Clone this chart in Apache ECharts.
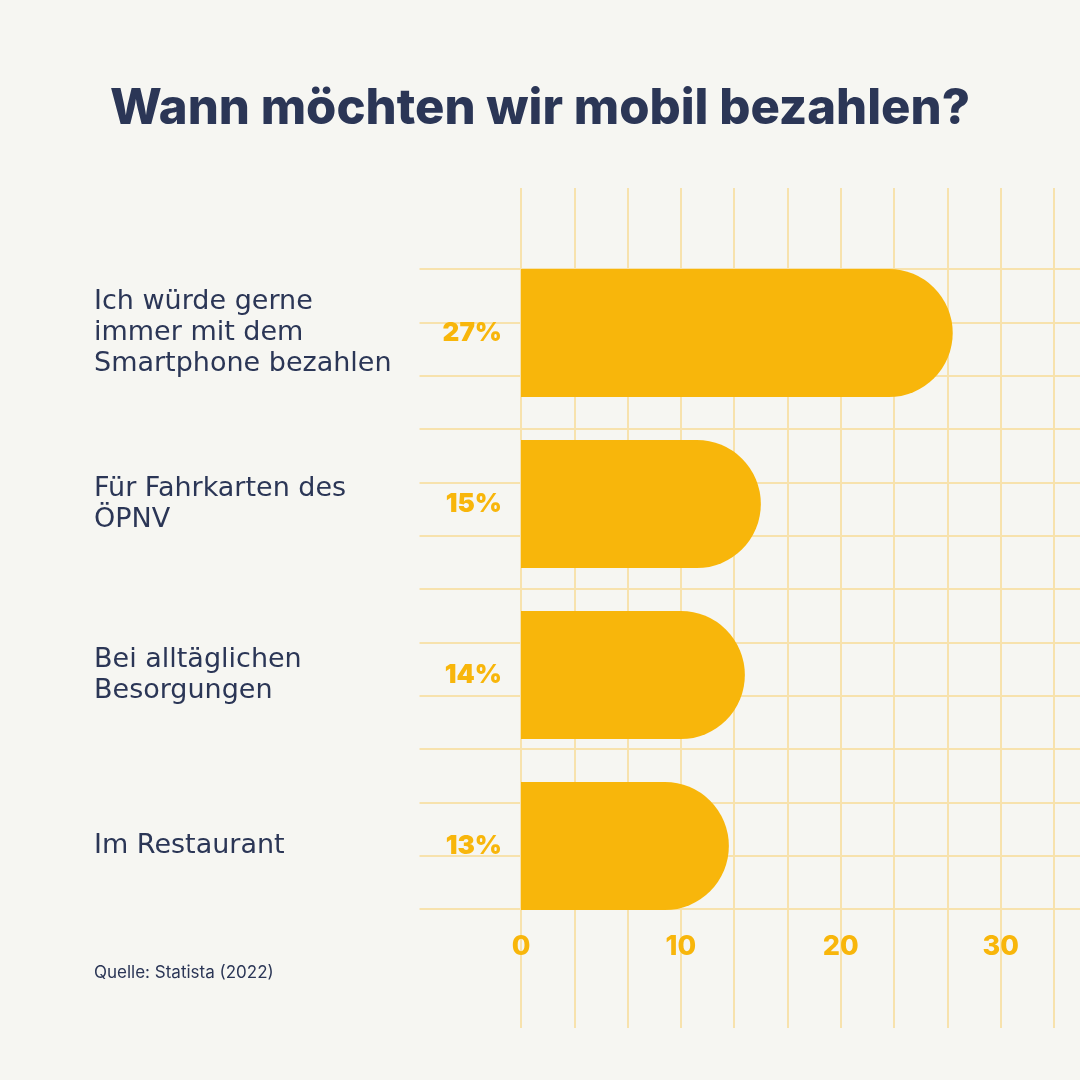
<!DOCTYPE html>
<html>

<head>
    <meta charset="utf-8">
    <title>Wann möchten wir mobil bezahlen?</title>
    <script src="https://cdn.jsdelivr.net/npm/echarts@6/dist/echarts.min.js"></script>
    <style>
        html, body { margin: 0; padding: 0; background: #f6f6f2; }
        #main { width: 1080px; height: 1080px; }
    </style>
</head>

<body>
<div id="main"></div>
<script>
    // Daten
    var categories = [
        'Ich würde gerne\nimmer mit dem\nSmartphone bezahlen',
        'Für Fahrkarten des\nÖPNV',
        'Bei alltäglichen\nBesorgungen',
        'Im Restaurant'
    ];
    var values = [27, 15, 14, 13];
    var xTicks = [0, 10, 20, 30];

    var navy = '#2b3656';
    var gold = '#f8b60b';
    var gridColor = '#f7e2ad';
    var font = 'Inter, "Noto Sans", sans-serif';
    var labelFont = '"DejaVu Sans", sans-serif';

    var myChart = echarts.init(document.getElementById('main'));

    var option = {
        backgroundColor: '#f6f6f2',
        title: [
            {
                text: 'Wann möchten wir mobil bezahlen?',
                left: 'center',
                top: 80,
                textStyle: { color: navy, fontSize: 49, fontWeight: 800, fontFamily: font }
            },
            {
                text: 'Quelle: Statista (2022)',
                left: 94,
                top: 964,
                padding: 0,
                textStyle: { color: navy, fontSize: 17, fontWeight: 'normal', fontFamily: font }
            }
        ],
        grid: [
            // Balken
            { left: 521, right: 26, top: 247.5, bottom: 148.5 },
            // senkrechte Rasterlinien
            { left: 521, right: 26, top: 188, bottom: 52 },
            // waagerechte Rasterlinien
            { left: 419.5, right: 0, top: 269, bottom: 171 }
        ],
        xAxis: [
            {
                gridIndex: 0,
                type: 'value',
                min: 0,
                max: 100 / 3,
                interval: 10,
                axisLine: { show: false },
                axisTick: { show: false },
                splitLine: { show: false },
                axisLabel: {
                    margin: 2,
                    color: gold,
                    fontSize: 27,
                    fontWeight: 800,
                    fontFamily: font,
                    showMaxLabel: false,
                    formatter: function (v) {
                        return xTicks.indexOf(Math.round(v)) >= 0 && Math.abs(v - Math.round(v)) < 0.01 ? String(Math.round(v)) : '';
                    }
                }
            },
            {
                gridIndex: 1,
                type: 'value',
                min: 0,
                max: 10,
                interval: 1,
                axisLine: { show: false },
                axisTick: { show: false },
                axisLabel: { show: false },
                splitLine: { show: true, lineStyle: { color: gridColor, width: 2 } }
            },
            {
                gridIndex: 2,
                type: 'value',
                min: 0,
                max: 1,
                show: false
            }
        ],
        yAxis: [
            {
                gridIndex: 0,
                type: 'category',
                data: categories,
                inverse: true,
                axisLine: { show: false },
                axisTick: { show: false },
                splitLine: { show: false },
                axisLabel: {
                    align: 'left',
                    margin: 427,
                    color: navy,
                    fontSize: 27,
                    lineHeight: 31,
                    fontFamily: labelFont
                }
            },
            {
                gridIndex: 1,
                type: 'value',
                min: 0,
                max: 1,
                show: false
            },
            {
                gridIndex: 2,
                type: 'value',
                min: 0,
                max: 12,
                interval: 1,
                axisLine: { show: false },
                axisTick: { show: false },
                axisLabel: { show: false },
                splitLine: { show: true, lineStyle: { color: gridColor, width: 2 } }
            }
        ],
        series: [
            {
                type: 'bar',
                xAxisIndex: 0,
                yAxisIndex: 0,
                data: values,
                barWidth: 128,
                z: 5,
                itemStyle: {
                    color: gold,
                    borderRadius: [0, 64, 64, 0]
                },
                label: {
                    show: true,
                    position: 'left',
                    distance: 19,
                    formatter: '{c}%',
                    color: gold,
                    fontSize: 26,
                    fontWeight: 900,
                    fontFamily: font
                }
            }
        ]
    };

    myChart.setOption(option);
</script>
</body>

</html>
